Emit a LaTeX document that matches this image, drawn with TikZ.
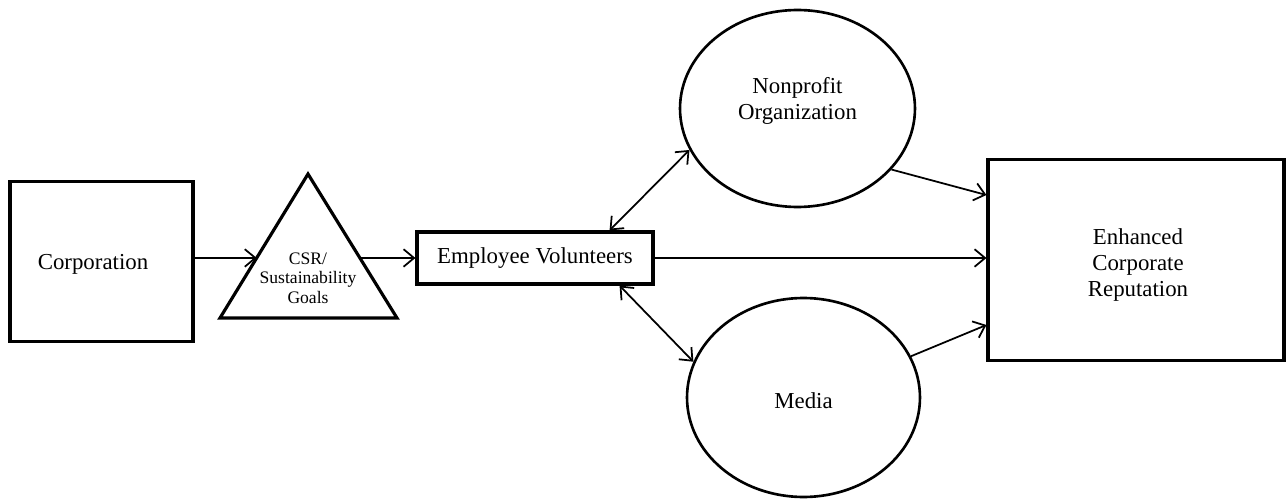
\documentclass[tikz,border=0pt]{standalone}
\usepackage{fontspec}
\setmainfont{Liberation Serif}
\usetikzlibrary{arrows.meta,positioning,calc,shapes.geometric}
\tikzset{
  boxnode/.style={draw,line width=1.8pt,inner sep=0pt},
  ovalnode/.style={draw,ellipse,line width=1.5pt,inner sep=0pt},
  txt/.style={align=center,font=\fontsize{13}{15}\selectfont},
  arrowline/.style={line width=1pt,-{Straight Barb[length=6pt,width=10pt]}},
  twoway/.style={line width=1pt,{Straight Barb[length=6pt,width=10pt]}-{Straight Barb[length=6pt,width=10pt]}}
}

\begin{document}
\begin{tikzpicture}[x=0.02cm,y=-0.02cm]
\useasboundingbox (0,0) rectangle (1286,500);
% boxes and ovals
\node[boxnode,minimum width=3.66cm,minimum height=3.2cm] (corp) at (101.5,261.5) {};
\node[txt] (corptext) at (93,264) {Corporation};
\node[boxnode,txt,minimum width=4.72cm,minimum height=1.04cm] (ev) at (535,258) {Employee Volunteers};
\node[boxnode,minimum width=5.92cm,minimum height=4.02cm] (erep) at (1136,260) {};
\node[txt] (ereptext) at (1138,265) {Enhanced\\Corporate\\Reputation};
\node[ovalnode,minimum width=4.7cm,minimum height=3.94cm] (np) at (797.5,108.5) {};
\node[txt] (nptext) at (797.5,101) {Nonprofit\\Organization};
\node[ovalnode,minimum width=4.66cm,minimum height=3.98cm] (media) at (803.5,397.5) {};
\node[txt] (mediatext) at (803.5,401) {Media};
% triangle
\coordinate (csrtop) at (308,174);
\coordinate (csrleft) at (220,318);
\coordinate (csrright) at (397,318);
\draw[line width=1.8pt,line join=miter] (csrtop) -- (csrleft) -- (csrright) -- cycle;
\node[font=\fontsize{10}{11.2}\selectfont,align=center] (csr) at (308,278) {CSR/\\Sustainability\\Goals};
% connectors
\draw[arrowline] (corp.east |- ev.west) -- ($(csrtop)!0.583!(csrleft)$);
\draw[arrowline] ($(csrtop)!0.583!(csrright)$) -- (ev.west);
\draw[arrowline] (ev.east) -- (erep.west |- ev.east);
\draw[twoway] ([xshift=-0.9cm]ev.north east) -- (np.201.5);
\draw[twoway] ([xshift=-0.7cm]ev.south east) -- (media.162.6);
\draw[arrowline] (np.-33) -- ([yshift=1.3cm]erep.west);
\draw[arrowline] (media.21.8) -- ([yshift=-1.3cm]erep.west);
\end{tikzpicture}
\end{document}
